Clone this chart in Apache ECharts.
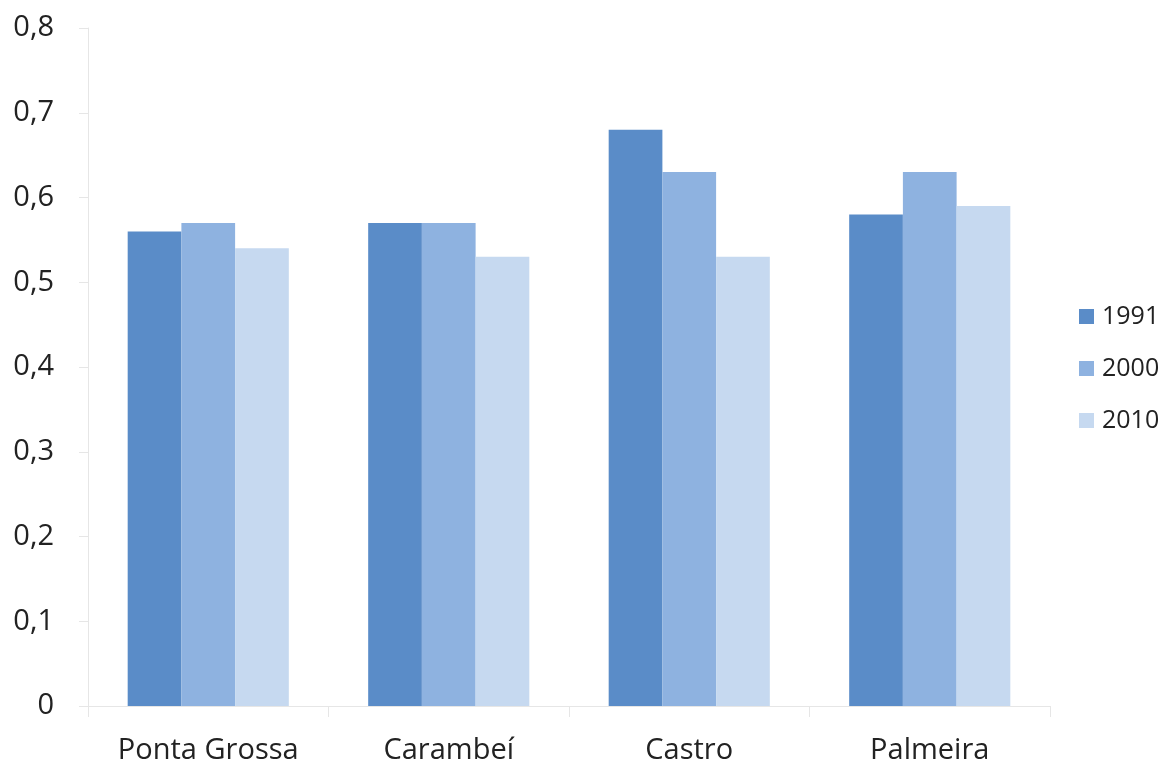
<!DOCTYPE html>
<html>
<head>
<meta charset="utf-8">
<script src="https://cdn.jsdelivr.net/npm/echarts@6/dist/echarts.min.js"></script>
<style>
  html, body { margin: 0; padding: 0; background: #fff; }
  #chart { width: 1162px; height: 765px; }
</style>
</head>
<body>
<div id="chart"></div>
<script>
const categories = ['Ponta Grossa', 'Carambeí', 'Castro', 'Palmeira'];
const seriesNames = ['1991', '2000', '2010'];
const values1991 = [0.56, 0.57, 0.68, 0.58];
const values2000 = [0.57, 0.57, 0.63, 0.63];
const values2010 = [0.54, 0.53, 0.53, 0.59];
const colors = ['#5A8CC8', '#8EB2E0', '#C6D9F0'];

const FONT = '"Open Sans", Lato, sans-serif';

const chart = echarts.init(document.getElementById('chart'));
const allValues = [values1991, values2000, values2010];

chart.setOption({
  animation: false,
  textStyle: { fontFamily: FONT },
  grid: { left: 88, right: 112, top: 28, bottom: 57, containLabel: false },
  legend: {
    orient: 'vertical',
    left: 1079,
    top: 304,
    padding: 0,
    data: seriesNames,
    itemWidth: 15,
    itemHeight: 15,
    itemGap: 27,
    icon: 'rect',
    textStyle: { fontFamily: FONT, fontSize: 25, color: '#222', padding: [0, 0, 0, 3] }
  },
  xAxis: {
    type: 'category',
    data: categories,
    axisLine: { lineStyle: { color: '#e6e6e6', width: 1 } },
    axisTick: { show: true, length: 11, lineStyle: { color: '#e6e6e6' } },
    axisLabel: { fontFamily: FONT, fontSize: 29, color: '#222', margin: 30 }
  },
  yAxis: {
    type: 'value',
    min: 0,
    max: 0.8,
    interval: 0.1,
    axisLine: { show: true, lineStyle: { color: '#e6e6e6', width: 1 } },
    axisTick: { show: true, length: 9, lineStyle: { color: '#e6e6e6' } },
    splitLine: { show: false },
    axisLabel: {
      fontFamily: FONT, fontSize: 29, color: '#222', margin: 34,
      formatter: v => (Math.round(v * 10) / 10).toString().replace('.', ',')
    }
  },
  series: seriesNames.map((name, i) => ({
    name,
    type: 'bar',
    data: allValues[i],
    barGap: '0%',
    barCategoryGap: '33%',
    itemStyle: { color: colors[i] }
  }))
});
</script>
</body>
</html>
